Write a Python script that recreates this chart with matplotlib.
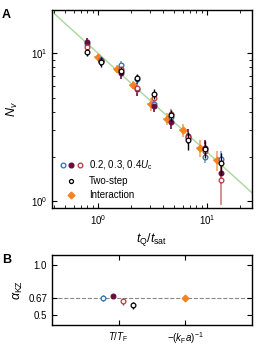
import numpy as np
import matplotlib
matplotlib.use("Agg")
from matplotlib import pyplot as plt
from matplotlib.legend_handler import HandlerTuple
from matplotlib.lines import Line2D

plt.rcParams['font.family'] = ['Liberation Sans', 'DejaVu Sans']
plt.rcParams['mathtext.fontset'] = 'custom'
plt.rcParams['mathtext.rm'] = 'Liberation Sans'
plt.rcParams['mathtext.it'] = 'Liberation Sans:italic'
plt.rcParams['font.size'] = 7

# ---- panel A data ----
t_u = [0.79, 1.07, 1.63, 2.28, 3.26, 4.68, 6.7, 9.6, 13.4]
n_u02 = [11.5, 9.0, 8.3, 6.7, 4.5, 3.7, 2.65, 2.0, 1.92]
e_u02 = [0.6, 0.5, 0.6, 0.4, 0.3, 0.3, 0.2, 0.2, 0.25]
n_u03 = [11.9, 8.8, 7.3, 5.7, 4.4, 3.4, 2.75, 2.3, 1.55]
e_u03 = [0.7, 0.6, 0.6, 0.6, 0.4, 0.35, 0.3, 0.3, 0.25]
n_u04 = [11.0, 8.9, 7.8, 5.8, 5.0, 3.9, 2.7, 2.18, 1.39]
e_u04 = [0.6, 0.5, 0.5, 0.4, 0.35, 0.3, 0.25, 0.25, 0.45]
n_two = [10.1, 8.7, 7.6, 6.8, 5.3, 3.8, 2.58, 2.25, 1.8]
e_two = [0.5, 0.7, 0.5, 0.4, 0.4, 0.3, 0.35, 0.3, 0.3]

t_int = [1.0, 1.49, 2.09, 3.06, 4.3, 6.0, 8.6, 12.3]
n_int = [9.4, 7.8, 6.08, 4.5, 3.6, 3.0, 2.3, 1.89]
e_int = [0.5, 0.45, 0.4, 0.45, 0.35, 0.3, 0.3, 0.3]
ex_int = [0.07, 0.1, 0.15, 0.25, 0.35, 0.45, 0.7, 1.0]

# ---- panel B data ----
b_x = [0.77, 0.92, 1.07, 1.22, 2.0]
b_alpha = [0.673, 0.69, 0.64, 0.60, 0.67]
b_err = [0.03, 0.015, 0.035, 0.035, 0.015]

blue = '#2f6fad'
maroon = '#6b0c3f'
red = '#b8383c'
orange = '#f5821f'

fig = plt.figure(figsize=(2.6, 3.5), dpi=100)
axA = fig.add_axes([0.2, 0.406, 0.769, 0.565])
axB = fig.add_axes([0.2, 0.071, 0.769, 0.2])

# power law guide, slope -2/3
tt = np.array([0.3, 30])
axA.plot(tt, 10 * tt ** (-2 / 3), color='#a8d89a', lw=1, zorder=1)

ms = 3.4
axA.errorbar(t_u, n_u02, yerr=e_u02, fmt='o', ms=ms, mfc='white', mec=blue, mew=0.9,
             ecolor='#7fa3cc', elinewidth=1.2, zorder=3)
axA.errorbar(t_u, n_u03, yerr=e_u03, fmt='o', ms=ms, mfc=maroon, mec=maroon, mew=0.9,
             ecolor=maroon, elinewidth=1.2, zorder=3)
axA.errorbar(t_u, n_u04, yerr=e_u04, fmt='o', ms=ms, mfc='white', mec=red, mew=0.9,
             ecolor='#cf7f82', elinewidth=1.2, zorder=3)
axA.errorbar(t_u, n_two, yerr=e_two, fmt='o', ms=ms, mfc='white', mec='black', mew=0.9,
             ecolor='black', elinewidth=1.0, zorder=4)
axA.errorbar(t_int, n_int, yerr=e_int, xerr=ex_int, fmt='D', ms=ms, mfc=orange, mec=orange,
             ecolor='#f9a55a', elinewidth=1.2, zorder=2)

axA.set_xscale('log')
axA.set_yscale('log')
axA.set_xlim(0.38, 26)
axA.set_ylim(0.9, 19.5)
axA.tick_params(which='both', direction='in', top=True, right=True, labelsize=7)
axA.tick_params(which='major', length=3.5)
axA.tick_params(which='minor', length=2)
axA.set_xlabel(r'$t_{\rm Q}/t_{\rm sat}$', fontsize=9, labelpad=3)
axA.set_ylabel(r'$N_v$', fontsize=9, labelpad=8)

h_u = (Line2D([], [], ls='', marker='o', ms=ms, mfc='white', mec=blue, mew=0.9),
       Line2D([], [], ls='', marker='o', ms=ms, mfc=maroon, mec=maroon),
       Line2D([], [], ls='', marker='o', ms=ms, mfc='white', mec=red, mew=0.9))
h_two = Line2D([], [], ls='', marker='o', ms=ms - 0.5, mfc='white', mec='black', mew=0.9)
h_int = Line2D([], [], ls='', marker='D', ms=ms, mfc=orange, mec=orange)
axA.legend([h_u, h_two, h_int], [r'0.2, 0.3, 0.4$U_{\rm c}$', 'Two-step', 'Interaction'],
           handler_map={tuple: HandlerTuple(ndivide=None, pad=0.3)},
           loc='lower left', frameon=False, fontsize=7, handlelength=2.4,
           handletextpad=0.6, labelspacing=0.4, borderaxespad=0.4)

# ---- panel B ----
axB.axhline(0.67, color='#888888', ls='--', lw=0.8, zorder=1)
b_style = [dict(fmt='o', mfc='white', mec=blue, ecolor=blue),
           dict(fmt='o', mfc=maroon, mec=maroon, ecolor=maroon),
           dict(fmt='o', mfc='white', mec=red, ecolor=red),
           dict(fmt='o', mfc='white', mec='black', ecolor='black'),
           dict(fmt='D', mfc=orange, mec=orange, ecolor=orange)]
for xv, yv, ev, st in zip(b_x, b_alpha, b_err, b_style):
    axB.errorbar([xv], [yv], yerr=[ev], ms=ms, mew=0.9, elinewidth=1.0, zorder=3, **st)

axB.set_xlim(0, 3)
axB.set_ylim(0.4, 1.1)
axB.set_yticks([0.5, 0.67, 1.0])
axB.set_yticklabels(['0.5', '0.67', '1.0'])
axB.set_xticks([1, 2])
axB.set_xticklabels([r'$T/T_{\rm F}$', r'$-(k_{\rm F}a)^{-1}$'])
axB.tick_params(direction='in', top=True, right=True, labelsize=7, length=3.5)
axB.set_ylabel(r'$\alpha_{\rm KZ}$', fontsize=9, labelpad=2)

for ax in (axA, axB):
    for s in ax.spines.values():
        s.set_linewidth(1.0)

fig.text(0.008, 0.975, 'A', fontsize=9, fontweight='bold', va='top')
fig.text(0.008, 0.275, 'B', fontsize=9, fontweight='bold', va='top')

fig.savefig('out.png', dpi=100)
